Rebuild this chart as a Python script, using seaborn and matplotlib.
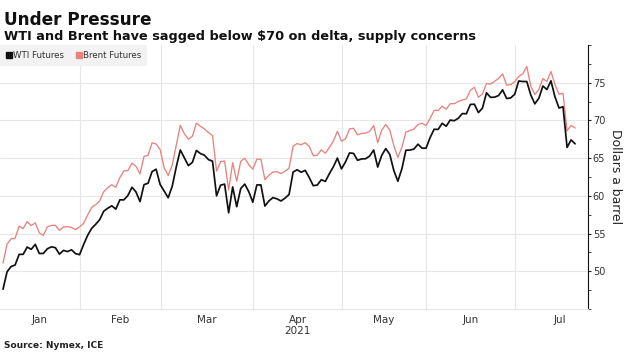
import numpy as np
import pandas as pd
import seaborn as sns
import matplotlib.pyplot as plt
from matplotlib.lines import Line2D
from matplotlib.ticker import FixedLocator, MultipleLocator, NullFormatter

# trading days (weekdays) Jan 4 - Jul 21 2021
dates = pd.bdate_range("2021-01-04", "2021-07-21")

wti = [
    # Jan
    47.62, 49.93, 50.63, 50.83, 52.24, 52.25, 53.21, 52.91, 53.57, 52.36,
    52.36, 52.98, 53.24, 53.13, 52.27, 52.77, 52.61, 52.85, 52.34, 52.20,
    # Feb
    53.55, 54.76, 55.69, 56.23, 56.85, 57.97, 58.36, 58.68, 58.24, 59.47,
    59.47, 60.05, 61.14, 60.52, 59.24, 61.49, 61.67, 63.22, 63.53, 61.50,
    # Mar
    60.64, 59.75, 61.28, 63.83, 66.09, 65.05, 64.01, 64.44, 66.02, 65.61,
    65.39, 64.80, 64.60, 60.00, 61.42, 61.55, 57.76, 61.18, 58.56, 60.97,
    61.56, 60.55, 59.16,
    # Apr
    61.45, 61.45, 58.65, 59.33, 59.77, 59.60, 59.32, 59.70, 60.18, 63.15,
    63.46, 63.13, 63.38, 62.44, 61.35, 61.43, 62.14, 61.91, 62.94, 63.86,
    65.01, 63.58,
    # May
    64.49, 65.69, 65.63, 64.71, 64.90, 64.92, 65.28, 66.08, 63.82, 65.37,
    66.27, 65.49, 63.36, 61.94, 63.58, 66.05, 66.07, 66.21, 66.85, 66.32,
    66.32,
    # Jun
    67.72, 68.83, 68.81, 69.62, 69.23, 70.05, 69.96, 70.29, 70.91, 70.88,
    72.12, 72.15, 71.04, 71.64, 73.66, 73.06, 73.08, 73.30, 74.05, 72.91,
    72.98, 73.47,
    # Jul
    75.23, 75.16, 75.16, 73.37, 72.20, 72.94, 74.56, 74.10, 75.25, 73.13,
    71.65, 71.81, 66.42, 67.42, 66.90,
]

brent = [
    # Jan
    51.09, 53.60, 54.30, 54.38, 55.99, 55.66, 56.58, 56.06, 56.42, 55.10,
    54.75, 55.90, 56.08, 56.10, 55.41, 55.88, 55.91, 55.81, 55.53, 55.88,
    # Feb
    56.35, 57.46, 58.46, 58.84, 59.34, 60.56, 61.09, 61.47, 61.14, 62.43,
    63.30, 63.35, 64.34, 63.93, 62.91, 65.24, 65.37, 67.04, 66.88, 66.13,
    # Mar
    63.69, 62.70, 64.07, 66.74, 69.36, 68.24, 67.52, 67.90, 69.63, 69.22,
    68.88, 68.39, 68.00, 63.28, 64.53, 64.62, 60.79, 64.41, 61.95, 64.57,
    64.98, 64.14, 63.54,
    # Apr
    64.86, 64.86, 62.15, 62.74, 63.16, 63.20, 62.95, 63.28, 63.67, 66.58,
    66.94, 66.77, 67.05, 66.57, 65.32, 65.40, 66.11, 65.65, 66.42, 67.27,
    68.56, 67.25,
    # May
    67.56, 68.88, 68.96, 68.09, 68.28, 68.32, 68.55, 69.32, 67.05, 68.71,
    69.46, 68.71, 66.66, 65.11, 66.44, 68.46, 68.65, 68.87, 69.46, 69.63,
    69.32,
    # Jun
    70.25, 71.35, 71.31, 71.89, 71.49, 72.22, 72.22, 72.52, 72.69, 72.86,
    73.99, 74.39, 73.08, 73.51, 74.90, 74.81, 75.19, 75.56, 76.18, 74.68,
    74.76, 75.13,
    # Jul
    75.84, 76.17, 77.16, 74.53, 73.43, 74.12, 75.55, 75.16, 76.49, 74.76,
    73.47, 73.59, 68.62, 69.35, 69.00,
]

series_names = ["WTI Futures", "Brent Futures"]
series_colors = ["#111111", "#e8827f"]
month_labels = ["Jan", "Feb", "Mar", "Apr\n2021", "May", "Jun", "Jul"]
y_labels = [50, 55, 60, 65, 70, 75]

df = pd.DataFrame({"day": np.arange(len(dates)), "date": dates,
                   "WTI Futures": wti, "Brent Futures": brent})
long = df.melt(id_vars=["day", "date"], value_vars=series_names,
               var_name="series", value_name="price")

sns.set_style("white")
plt.rcParams["font.family"] = ["DejaVu Sans"]

fig = plt.figure(figsize=(6.32, 3.55), dpi=100)
ax = fig.add_axes([0, 0.1296, 0.9304, 0.7436])

# brent first, wti on top
sns.lineplot(data=long[long["series"] == "Brent Futures"], x="day", y="price",
             color=series_colors[1], linewidth=0.95, legend=False, ax=ax)
sns.lineplot(data=long[long["series"] == "WTI Futures"], x="day", y="price",
             color=series_colors[0], linewidth=1.25, legend=False, ax=ax)

x_left, x_right = -0.75, 145.2
ax.set_xlim(x_left, x_right)
ax.set_ylim(45, 80)

# month boundaries (first weekday of each month), grid sits just before it
month_start = df.groupby(df["date"].dt.month)["day"].min().values
aug_start = len(pd.bdate_range("2021-01-04", "2021-08-02")) - 1
bounds = [b - 0.9 for b in list(month_start[1:]) + [aug_start]]
lefts = [x_left] + bounds[:-1]
centers = [(a + b) / 2 for a, b in zip(lefts, bounds)]

ax.xaxis.set_major_locator(FixedLocator(bounds[:-1]))
ax.xaxis.set_major_formatter(NullFormatter())
ax.xaxis.set_minor_locator(FixedLocator(centers))
ax.set_xticklabels(month_labels, minor=True)
ax.tick_params(axis="x", which="both", length=0, labelsize=7.5,
               labelcolor="#333333", pad=4)
ax.grid(axis="x", which="major", color="#e6e6e6", linewidth=0.8)

ax.yaxis.tick_right()
ax.yaxis.set_label_position("right")
ax.yaxis.set_major_locator(FixedLocator(y_labels))
ax.yaxis.set_minor_locator(MultipleLocator(2.5))
ax.tick_params(axis="y", which="major", direction="out", length=2.5, width=0.8,
               labelsize=7, labelcolor="#333333", pad=1)
ax.tick_params(axis="y", which="minor", direction="out", length=2, width=0.6)
ax.grid(axis="y", which="major", color="#e6e6e6", linewidth=0.8)
ax.set_ylabel("Dollars a barrel", rotation=270, fontsize=8.9,
              color="#222222", labelpad=12)
ax.set_xlabel("")

for side in ["top", "left"]:
    ax.spines[side].set_visible(False)
ax.spines["right"].set_color("#111111")
ax.spines["right"].set_linewidth(0.8)
ax.spines["bottom"].set_color("#e6e6e6")
ax.spines["bottom"].set_linewidth(0.8)

handles = [Line2D([], [], marker="s", linestyle="None", markersize=5,
                  markerfacecolor=c, markeredgecolor=c) for c in series_colors]
leg = ax.legend(handles, series_names, loc="upper left", bbox_to_anchor=(0, 1),
                borderaxespad=0, ncol=2, frameon=True, fancybox=False,
                facecolor="#f2f2f2", edgecolor="none", framealpha=1,
                fontsize=6.2, handlelength=0.6, handletextpad=0.2,
                columnspacing=1.4, borderpad=0.7)
for t in leg.get_texts():
    t.set_color("#333333")

fig.text(0.006, 1 - 25 / 355, "Under Pressure", fontsize=12.2,
         fontweight="bold", color="#111111", va="baseline")
fig.text(0.006, 1 - 40 / 355,
         "WTI and Brent have sagged below $70 on delta, supply concerns",
         fontsize=9.3, fontweight="bold", color="#111111", va="baseline")
fig.text(0.006, 1 - 348 / 355, "Source: Nymex, ICE", fontsize=6.5,
         fontweight="bold", color="#222222", va="baseline")

fig.savefig("out.png", dpi=100)
